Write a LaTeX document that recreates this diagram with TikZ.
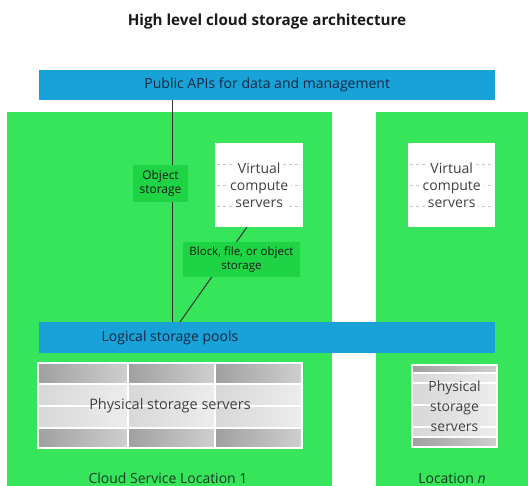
\documentclass[tikz,border=0pt]{standalone}
\usepackage{fontspec}
\setmainfont{Open Sans}
\usetikzlibrary{positioning}
\definecolor{locgreen}{RGB}{55,229,90}
\definecolor{taggreen}{RGB}{30,212,68}
\definecolor{apiblue}{RGB}{24,162,216}
\definecolor{bartext}{RGB}{22,40,66}
\definecolor{loctext}{RGB}{22,60,36}
\definecolor{darkrow}{RGB}{168,168,168}
\definecolor{lightrow}{RGB}{222,222,222}
\tikzset{
  location/.style={fill=locgreen,draw=none,anchor=north west,inner sep=0pt},
  bar/.style={fill=apiblue,draw=none,anchor=north west,inner sep=0pt},
  tag/.style={fill=taggreen,draw=none,align=center,inner sep=1pt,text=black!90},
  vmbox/.style={fill=white,draw=none,anchor=north west,inner sep=0pt},
  vmtext/.style={align=center,font=\fontsize{14}{21}\selectfont,text=black!75},
  bartitle/.style={font=\fontsize{14}{16}\selectfont,text=bartext},
  loctitle/.style={font=\fontsize{14}{16}\selectfont,text=loctext},
  link/.style={draw=black!80,line width=1pt},
  darkcell/.style={left color=darkrow!95!black,right color=darkrow!55!white},
  lightcell/.style={left color=lightrow!97!black,right color=lightrow!55!white}
}
\begin{document}
\begin{tikzpicture}[x=1pt,y=-1pt]
  \useasboundingbox (0,0) rectangle (528,486);
  \node[location,minimum width=325,minimum height=374] (loc1) at (7,112) {};
  \node[location,minimum width=152,minimum height=374] (loc2) at (376,112) {};
  \node[bar,minimum width=456,minimum height=30] (apis) at (39,70) {};
  \node[bar,minimum width=456,minimum height=31] (pools) at (39,322) {};
  \node[font=\bfseries\fontsize{15.2}{17}\selectfont,text=black!90] (title) at (267,22) {High level cloud storage architecture};
  \node[bartitle] (apistxt) at (apis.center) {Public APIs for data and management};
  \node[bartitle] (poolstxt) at (170,338) {Logical storage pools};
  \coordinate (vx) at (172,0);
  \coordinate (dtop) at (247,227);
  \coordinate (dbot) at (180,322);
  \draw[link] (apis.south -| vx) -- (pools.north -| vx);
  \draw[link] (dtop) -- (dbot);
  \node[tag,font=\fontsize{12}{14}\selectfont,minimum width=55,minimum height=37] (objtag) at (160.5,183.5) {Object\\storage};
  \node[tag,font=\fontsize{11.5}{14}\selectfont,minimum width=117,minimum height=35] (blocktag) at (241.5,259.5) {Block, file, or object\\storage};
  \node[vmbox,minimum width=88,minimum height=84] (vm1) at (215,143) {};
  \node[vmbox,minimum width=87,minimum height=84] (vm2) at (408,143) {};
  \foreach \v in {vm1,vm2} {
    \foreach \dy in {21,42,63}
      \draw[gray!45,dashed,line width=0.6pt] ([xshift=2pt,yshift=-\dy pt]\v.north west) -- ([xshift=-2pt,yshift=-\dy pt]\v.north east);
  }
  \node[vmtext] (vm1txt) at (vm1.center) {\colorbox{white}{Virtual}\\[-4pt]\colorbox{white}{compute}\\[-4pt]\colorbox{white}{servers}};
  \node[vmtext] (vm2txt) at (vm2.center) {\colorbox{white}{Virtual}\\[-4pt]\colorbox{white}{compute}\\[-4pt]\colorbox{white}{servers}};
  \node[vmbox,minimum width=264,minimum height=85] (phys1) at (38,363) {};
  \foreach \xa/\xb in {38/128,128/215,215/302} {
    \shade[darkcell] (\xa,363) rectangle (\xb,384);
    \shade[lightcell] (\xa,384) rectangle (\xb,428);
    \shade[darkcell] (\xa,428) rectangle (\xb,448);
  }
  \foreach \xx in {128,215}
    \draw[white,line width=1.5pt] (\xx,363) -- (\xx,448);
  \foreach \yy in {384,406,428}
    \draw[white,line width=1.5pt] (38,\yy) -- (302,\yy);
  \draw[white,line width=1.5pt] (38,363) rectangle (302,448);
  \node[vmbox,minimum width=85,minimum height=82] (phys2) at (412,365) {};
  \shade[darkcell] (412,365) rectangle (497,373);
  \shade[lightcell] (412,373) rectangle (497,437);
  \shade[darkcell] (412,437) rectangle (497,447);
  \foreach \yy in {373,383,405,427,437}
    \draw[white,line width=1.5pt] (412,\yy) -- (497,\yy);
  \draw[white,line width=1.5pt] (412,365) rectangle (497,447);
  \node[font=\fontsize{14.5}{16}\selectfont,text=black!75] (phys1txt) at (170,406) {Physical storage servers};
  \node[font=\fontsize{14}{20}\selectfont,text=black!75,align=center] (phys2txt) at (454.5,406) {Physical\\storage\\servers};
  \node[loctitle] (loc1txt) at (168,478) {Cloud Service Location 1};
  \node[loctitle] (loc2txt) at (452,478) {Location \textit{n}};
\end{tikzpicture}
\end{document}
